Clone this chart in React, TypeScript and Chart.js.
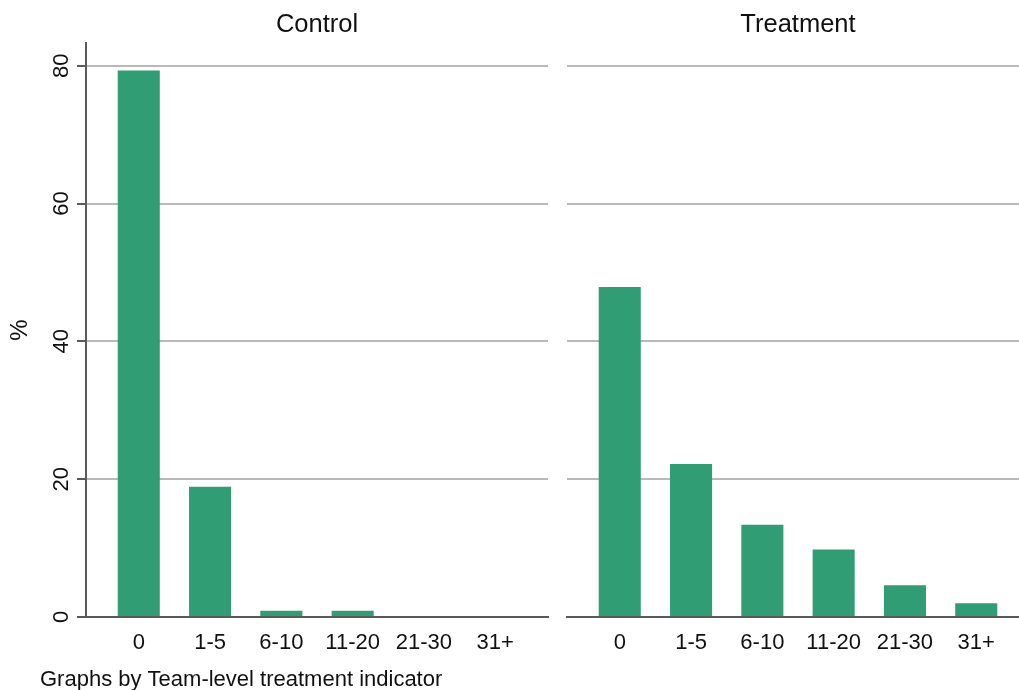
import React, { useEffect, useRef } from 'react';
import { Chart, registerables } from 'chart.js';

Chart.register(...registerables);

const categories = ['0', '1-5', '6-10', '11-20', '21-30', '31+'];
const controlPct = [79.3, 18.9, 0.9, 0.9, 0, 0];
const treatmentPct = [47.9, 22.2, 13.4, 9.8, 4.6, 2.0];
const yTicks = [0, 20, 40, 60, 80];
const panelTitles = ['Control', 'Treatment'];
const yTitle = '%';
const noteText = 'Graphs by Team-level treatment indicator';

const FONT = '"Liberation Sans", Arial, Helvetica, sans-serif';
const BAR = '#319d74';
const GRID = '#b9b9b9';
const AXIS = '#5a5a5a';

function makePlugin(title: string, note: string | null) {
  return {
    id: 'panelText',
    afterDraw(chart: any) {
      const { ctx, chartArea } = chart;
      ctx.save();
      ctx.fillStyle = '#111';
      ctx.font = `25.5px ${FONT}`;
      ctx.textAlign = 'center';
      ctx.textBaseline = 'middle';
      ctx.fillText(title, (chartArea.left + chartArea.right) / 2, 25);
      if (note) {
        ctx.font = `22px ${FONT}`;
        ctx.textAlign = 'left';
        ctx.textBaseline = 'alphabetic';
        ctx.fillText(note, 40, 686);
      }
      ctx.restore();
    },
  };
}

function makeConfig(values: number[], title: string, first: boolean): any {
  return {
    type: 'bar',
    data: {
      datasets: [
        {
          data: values.map((v, i) => ({ x: i, y: v })),
          backgroundColor: BAR,
          borderWidth: 0,
          barPercentage: 0.59,
          categoryPercentage: 1,
        },
      ],
    },
    plugins: [makePlugin(title, first ? noteText : null)],
    options: {
      responsive: false,
      animation: false,
      devicePixelRatio: 1,
      layout: { padding: { left: first ? 0 : 11, right: first ? 8 : 7, top: 43, bottom: 0 } },
      plugins: { legend: { display: false }, tooltip: { enabled: false }, title: { display: false } },
      scales: {
        x: {
          type: 'linear',
          offset: false,
          min: -0.74,
          max: categories.length - 1 + 0.74,
          afterBuildTicks: (s: any) => {
            s.ticks = categories.map((_, i) => ({ value: i }));
          },
          afterFit: (s: any) => {
            s.height = 73;
          },
          grid: { display: false, offset: false, drawTicks: false },
          border: { display: true, color: AXIS, width: 2 },
          ticks: {
            autoSkip: false,
            maxRotation: 0,
            minRotation: 0,
            padding: 13,
            color: '#111',
            font: { family: FONT, size: 22 },
            callback: (v: any) => categories[v] ?? '',
          },
        },
        y: {
          type: 'linear',
          min: 0,
          max: 83.3,
          afterBuildTicks: (s: any) => {
            s.ticks = yTicks.map((v) => ({ value: v }));
          },
          afterFit: (s: any) => {
            s.width = first ? 86 : 0;
          },
          grid: {
            display: true,
            color: (c: any) => (c.tick && c.tick.value === 0 ? 'rgba(0,0,0,0)' : GRID),
            lineWidth: 2,
            drawTicks: first,
            tickLength: first ? 9 : 0,
            tickColor: AXIS,
            tickWidth: 2,
          },
          border: { display: first, color: AXIS, width: 2 },
          title: {
            display: first,
            text: yTitle,
            color: '#111',
            font: { family: FONT, size: 24 },
            padding: { top: 6, bottom: 0 },
          },
          ticks: {
            display: first,
            minRotation: 90,
            maxRotation: 90,
            crossAlign: 'center',
            padding: 3,
            color: '#111',
            font: { family: FONT, size: 22 },
            callback: (v: any) => String(v),
          },
        },
      },
    },
  };
}

export default function App() {
  const leftRef = useRef<HTMLCanvasElement>(null);
  const rightRef = useRef<HTMLCanvasElement>(null);

  useEffect(() => {
    const c1 = new Chart(leftRef.current as HTMLCanvasElement, makeConfig(controlPct, panelTitles[0], true));
    const c2 = new Chart(rightRef.current as HTMLCanvasElement, makeConfig(treatmentPct, panelTitles[1], false));
    return () => {
      c1.destroy();
      c2.destroy();
    };
  }, []);

  return (
    <div
      style={{
        position: 'fixed',
        left: 0,
        top: 0,
        width: 1019,
        height: 690,
        overflow: 'hidden',
        background: '#fff',
      }}
    >
      <canvas
        ref={leftRef}
        width={556}
        height={690}
        style={{ position: 'absolute', left: 0, top: 0, width: 556, height: 690 }}
      />
      <canvas
        ref={rightRef}
        width={480}
        height={690}
        style={{ position: 'absolute', left: 556, top: 0, width: 480, height: 690 }}
      />
    </div>
  );
}
